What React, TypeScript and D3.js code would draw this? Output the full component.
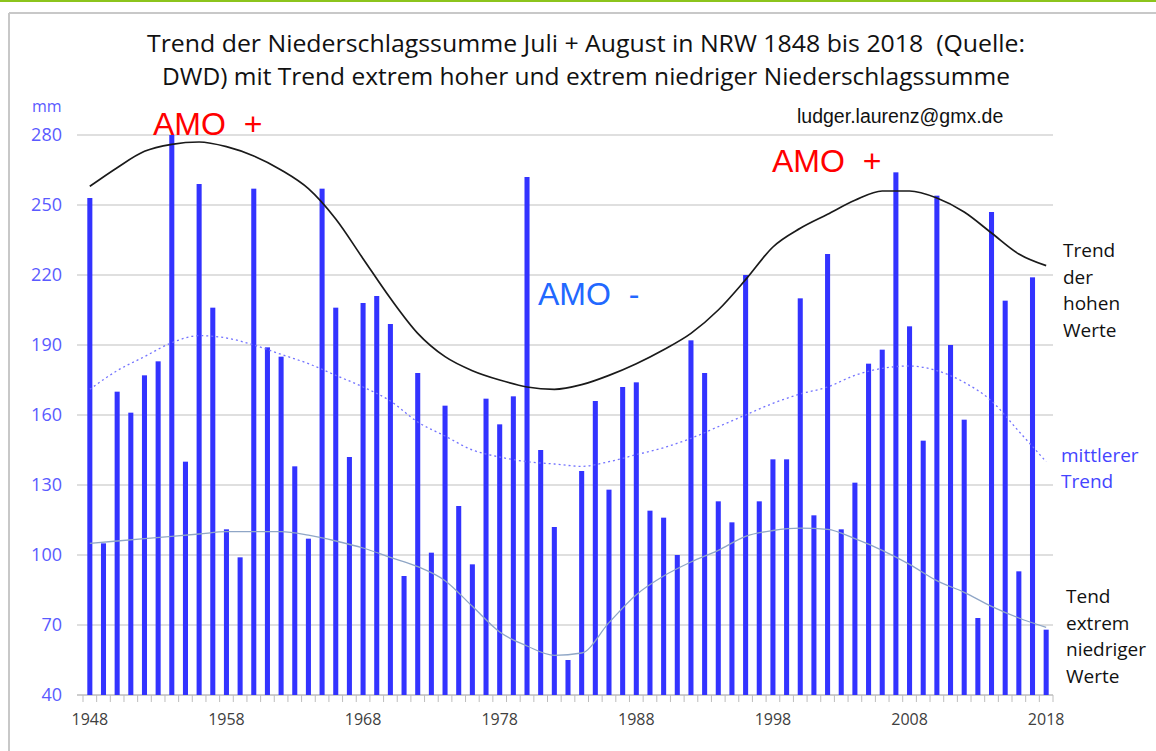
import React from "react";
import * as d3 from "d3";

// Niederschlagssumme Juli + August, NRW (mm)
const years = d3.range(1948, 2019);
const precipitation = [
  253, 105, 170, 161, 177, 183, 280, 140, 259, 206,
  111, 99, 257, 189, 185, 138, 107, 257, 206, 142,
  208, 211, 199, 91, 178, 101, 164, 121, 96, 167,
  156, 168, 262, 145, 112, 55, 136, 166, 128, 172,
  174, 119, 116, 100, 192, 178, 123, 114, 220, 123,
  141, 141, 210, 117, 229, 111, 131, 182, 188, 264,
  198, 149, 254, 190, 158, 73, 247, 209, 93, 219,
  68,
];

// trend curves, read every second year
const trendYears = d3.range(1948, 2019, 2);
const highTrend = [
  258, 266, 273, 276, 277, 275, 271, 265, 257, 244,
  227, 210, 195, 185, 179, 175, 172, 171, 173, 177,
  182, 188, 195, 205, 218, 232, 240, 246, 252, 256,
  256, 253, 247, 238, 229, 224,
];
const midTrend = [
  171, 179, 185, 191, 194, 193, 190, 186, 182, 177,
  172, 166, 157, 151, 145, 142, 140, 139, 138, 140,
  143, 146, 150, 155, 160, 165, 169, 172, 177, 180,
  181, 179, 174, 166, 153, 140,
];
const lowTrend = [
  105, 106, 107, 108, 109, 110, 110, 110, 108.5, 106,
  103, 99, 95, 89, 78, 67, 61, 57, 58, 71,
  83, 91, 97, 102, 108, 110.5, 111.5, 111, 107, 102,
  96, 89, 84, 78, 73, 69,
];

const yTicks = [40, 70, 100, 130, 160, 190, 220, 250, 280];
const xTickLabels = [1948, 1958, 1968, 1978, 1988, 1998, 2008, 2018];

const titleLines = [
  "Trend der Niederschlagssumme Juli + August in NRW 1848 bis 2018  (Quelle:",
  "DWD) mit Trend extrem hoher und extrem niedriger Niederschlagssumme",
];
const highLabel = ["Trend", "der", "hohen", "Werte"];
const midLabel = ["mittlerer", "Trend"];
const lowLabel = ["Tend", "extrem", "niedriger", "Werte"];

const calibriLike = "'Open Sans', 'Noto Sans', sans-serif";
const arialLike = "'Liberation Sans', Arial, sans-serif";

export default function App() {
  const width = 1156;
  const height = 751;

  const x = d3
    .scaleBand<number>()
    .domain(years)
    .range([83, 1053])
    .paddingInner(0.63)
    .paddingOuter(0.315);
  const y = d3.scaleLinear().domain([40, 280]).range([695, 135]);

  const step = x.step();
  const cx = (yr: number) => (x(yr) ?? 0) + x.bandwidth() / 2;

  const trendLine = (vals: number[]) =>
    d3
      .line<number>()
      .x((_, i) => cx(trendYears[i]))
      .y((d) => y(d))
      .curve(d3.curveMonotoneX)(vals) || "";

  const boundaries = years.map((yr) => cx(yr) - step / 2).concat([cx(2018) + step / 2]);

  return (
    <svg
      width={width}
      height={height}
      style={{ position: "absolute", left: 0, top: 0, background: "#fff" }}
    >
      {/* frame */}
      <rect x={0} y={0} width={width} height={2} fill="#8cc41c" />
      <line x1={9} y1={13} x2={width} y2={13} stroke="#c8c8c8" strokeWidth={2} />
      <line x1={9} y1={13} x2={9} y2={height} stroke="#c8c8c8" strokeWidth={2} />

      {/* title */}
      {titleLines.map((t, i) => (
        <text
          key={i}
          x={586}
          y={52 + i * 33}
          textAnchor="middle"
          fontFamily={calibriLike}
          fontSize={23}
          fill="#111"
          textLength={i === 0 ? 878 : 848}
          lengthAdjust="spacingAndGlyphs"
          xmlSpace="preserve"
        >
          {t}
        </text>
      ))}

      {/* grid */}
      {yTicks.map((t) => (
        <g key={t}>
          <line x1={77} x2={1053} y1={y(t)} y2={y(t)} stroke={t === 40 ? "#bdbdbd" : "#d4d4d4"} strokeWidth={1.3} />
          <text
            x={62}
            y={y(t) + 6}
            textAnchor="end"
            fontFamily={calibriLike}
            fontSize={18}
            fill="#5a5aff"
          >
            {t}
          </text>
        </g>
      ))}
      <text x={32} y={112} fontFamily={calibriLike} fontSize={16} fill="#5a5aff">
        mm
      </text>

      {/* x axis ticks */}
      {boundaries.map((bx, i) => (
        <line key={i} x1={bx} x2={bx} y1={y(40)} y2={y(40) + 7} stroke="#bdbdbd" strokeWidth={1} />
      ))}
      {xTickLabels.map((yr) => (
        <text
          key={yr}
          x={cx(yr)}
          y={725}
          textAnchor="middle"
          fontFamily={calibriLike}
          fontSize={16}
          fill="#404040"
        >
          {yr}
        </text>
      ))}

      {/* bars */}
      {years.map((yr, i) => (
        <rect
          key={yr}
          x={x(yr)}
          y={y(precipitation[i])}
          width={x.bandwidth()}
          height={y(40) - y(precipitation[i])}
          fill="#3333ff"
        />
      ))}

      {/* trends */}
      <path d={trendLine(lowTrend)} fill="none" stroke="#8fa6c6" strokeWidth={1.3} />
      <path d={trendLine(midTrend)} fill="none" stroke="#7373ff" strokeWidth={1.3} strokeDasharray="2,3" />
      <path d={trendLine(highTrend)} fill="none" stroke="#1a1a1a" strokeWidth={1.7} />

      {/* annotations */}
      <text x={153} y={135} fontFamily={arialLike} fontSize={32} fill="#ff0000" xmlSpace="preserve">
        AMO  +
      </text>
      <text x={772} y={172} fontFamily={arialLike} fontSize={32} fill="#ff0000" xmlSpace="preserve">
        AMO  +
      </text>
      <text x={538} y={305} fontFamily={arialLike} fontSize={32} fill="#2268ff" xmlSpace="preserve">
        AMO  -
      </text>
      <text x={797} y={123} fontFamily={arialLike} fontSize={19.5} fill="#111">
        ludger.laurenz@gmx.de
      </text>

      {highLabel.map((t, i) => (
        <text key={t + i} x={1063} y={257 + i * 26.7} fontFamily={calibriLike} fontSize={19} fill="#111">
          {t}
        </text>
      ))}
      {midLabel.map((t, i) => (
        <text key={t + i} x={1061} y={462 + i * 26} fontFamily={calibriLike} fontSize={19} fill="#4444ff">
          {t}
        </text>
      ))}
      {lowLabel.map((t, i) => (
        <text key={t + i} x={1066} y={603 + i * 26.7} fontFamily={calibriLike} fontSize={19} fill="#111">
          {t}
        </text>
      ))}
    </svg>
  );
}
